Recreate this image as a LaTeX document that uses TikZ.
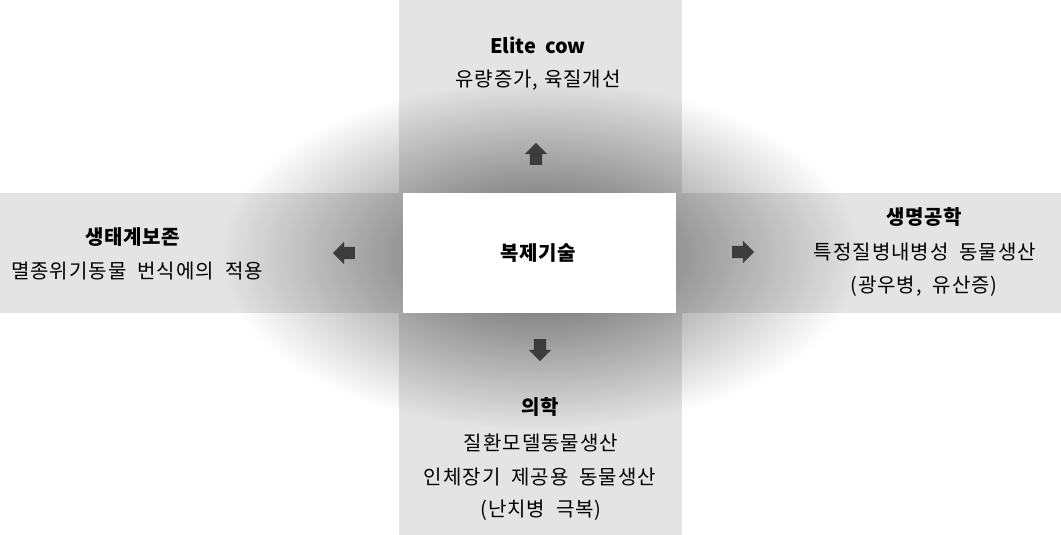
\documentclass[tikz,border=0pt]{standalone}
\usepackage{fontspec}
\setmainfont{Noto Sans CJK KR}
\usetikzlibrary{shapes.arrows,fadings}
\tikzfading[name=glowfade, inner color=transparent!40, outer color=transparent!100]
\definecolor{bandgray}{HTML}{E4E4E4}
\definecolor{arrowgray}{HTML}{3C3C3C}
\tikzset{
  txt/.style={font=\fontsize{20}{24}\selectfont\addfontfeature{LetterSpace=5}, inner sep=0pt, align=center},
  head/.style={font=\fontsize{20}{24}\selectfont\bfseries\addfontfeature{LetterSpace=3}, inner sep=0pt},
  arrowbase/.style={single arrow, fill=arrowgray, draw=none, minimum height=22pt, single arrow head extend=5pt, single arrow head indent=0pt},
  harrow/.style={arrowbase, inner xsep=0pt, inner ysep=6pt},
  varrow/.style={arrowbase, inner xsep=6pt, inner ysep=0pt}
}
\begin{document}
\begin{tikzpicture}[x=1pt,y=-1pt]
\useasboundingbox (0,0) rectangle (1061,535);
\fill[white] (0,0) rectangle (1061,535);
% bands
\fill[bandgray] (0,193) rectangle (1061,313);
\fill[bandgray] (399,0) rectangle (682,535);
% glow
\fill[black, path fading=glowfade] (540,255) ellipse (320 and 175);
% center box
\node[fill=white, minimum width=273pt, minimum height=120pt, inner sep=0pt] (center) at (539.5,253) {};
\node[head] (centertxt) at (538,253) {복제기술};
% arrows
\node[varrow, shape border rotate=90] (aup) at (536,157) {};
\node[varrow, shape border rotate=270] (adown) at (540,347) {};
\node[harrow, shape border rotate=180] (aleft) at (347,253) {};
\node[harrow, shape border rotate=0] (aright) at (740,252) {};
% top
\node[head, font=\fontsize{20}{24}\selectfont\bfseries] (toph) at (538,45) {Elite\ \ cow};
\node[txt] (topt) at (538,80) {유량증가,\ 육질개선};
% left
\node[head] (lefth) at (133,237) {생태계보존};
\node[txt] (leftt) at (137,271) {멸종위기동물\ \ 번식에의\ \ 적용};
% right
\node[head] (righth) at (924,217) {생명공학};
\node[txt] (rightt) at (925,252) {특정질병내병성\ \ 동물생산};
\node[txt] (rightt2) at (924,286) {(광우병,\ \ 유산증)};
% bottom
\node[head] (both) at (540,407) {의학};
\node[txt] (bott1) at (541,443) {질환모델동물생산};
\node[txt] (bott2) at (540,477) {인체장기\ \ 제공용\ \ 동물생산};
\node[txt] (bott3) at (541,510) {(난치병\ \ 극복)};
\end{tikzpicture}
\end{document}
